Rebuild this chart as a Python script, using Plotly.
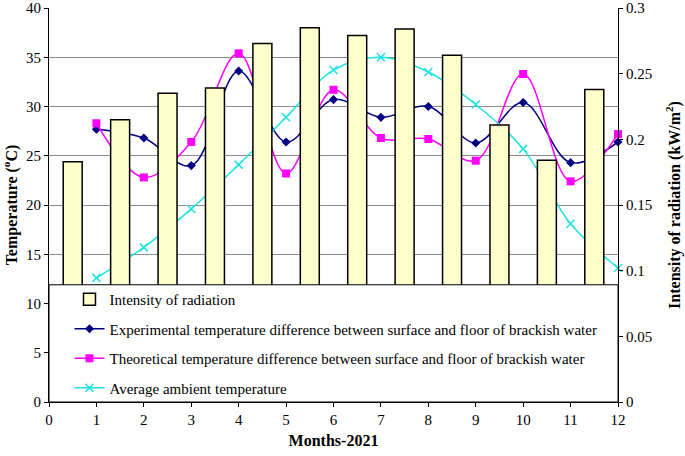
import plotly.graph_objects as go

months = list(range(1, 13))
radiation = [0.183, 0.215, 0.235, 0.239, 0.273, 0.285, 0.279, 0.284, 0.264, 0.211, 0.184, 0.238]
experimental = [27.7, 26.8, 24.0, 33.6, 26.4, 30.7, 28.9, 30.0, 26.3, 30.4, 24.3, 26.4]
theoretical = [28.3, 22.8, 26.4, 35.4, 23.2, 31.7, 26.8, 26.7, 24.5, 33.3, 22.4, 27.2]
ambient = [12.6, 15.7, 19.6, 24.1, 28.9, 33.7, 35.0, 33.5, 30.2, 25.7, 18.1, 13.6]

FONT = "Liberation Serif"
bar_x = [m - 0.5 for m in months]

fig = go.Figure()
fig.add_trace(go.Bar(
    x=bar_x, y=radiation, yaxis="y2", width=0.4,
    name="Intensity of radiation",
    marker=dict(color="#FFFFCC", line=dict(color="black", width=1.5)),
    legendgroup="a",
))
fig.add_trace(go.Scatter(
    x=months, y=experimental, mode="lines+markers", cliponaxis=False,
    name="Experimental temperature difference between surface and floor of brackish water",
    line=dict(color="#000080", width=1.5, shape="spline", smoothing=1),
    marker=dict(symbol="diamond", size=7, color="#000080"),
    legendgroup="b",
))
fig.add_trace(go.Scatter(
    x=months, y=theoretical, mode="lines+markers", cliponaxis=False,
    name="Theoretical temperature difference between surface and floor of brackish water",
    line=dict(color="#FF00FF", width=1.5, shape="spline", smoothing=1),
    marker=dict(symbol="square", size=8, color="#FF00FF"),
    legendgroup="c",
))
fig.add_trace(go.Scatter(
    x=months, y=ambient, mode="lines+markers", cliponaxis=False,
    name="Average ambient temperature",
    line=dict(color="#1EE3E3", width=1.5, shape="spline", smoothing=1),
    marker=dict(symbol="x-thin", size=8, color="#1EE3E3", line=dict(color="#1EE3E3", width=1.5)),
    legendgroup="d",
))

fig.add_shape(type="rect", xref="paper", yref="y", x0=0, x1=1, y0=0, y1=11.9,
              fillcolor="white", line=dict(color="black", width=1), layer="above")

fig.update_layout(
    width=685, height=456,
    margin=dict(l=49, r=67, t=8, b=54),
    paper_bgcolor="white", plot_bgcolor="white",
    font=dict(family=FONT, color="black", size=15),
    showlegend=True,
    barmode="overlay",
    legend=dict(x=0.036, y=0.302, xanchor="left", yanchor="top",
                bgcolor="rgba(0,0,0,0)", font=dict(family=FONT, size=15, color="black"),
                traceorder="grouped", tracegroupgap=7),
    xaxis=dict(range=[0, 12], dtick=1, tick0=0, showgrid=False, showline=True, automargin=False,
               linecolor="black", linewidth=1, ticks="outside", ticklen=4, tickcolor="black",
               tickfont=dict(family=FONT, size=15),
               title=dict(text="<b>Months-2021</b>", font=dict(family=FONT, size=16), standoff=7),
               zeroline=False),
    yaxis=dict(range=[0, 40], dtick=5, showgrid=True, gridcolor="#8c8c8c", gridwidth=1, automargin=False,
               showline=True, linecolor="black", linewidth=1, ticks="outside", ticklen=4,
               tickcolor="black", tickfont=dict(family=FONT, size=15),
               title=dict(text="<b>Temperature (<sup>o</sup>C)</b>", font=dict(family=FONT, size=16), standoff=4),
               zeroline=False),
    yaxis2=dict(range=[0, 0.3], dtick=0.05, overlaying="y", side="right", showgrid=False, automargin=False,
                showline=True, linecolor="black", linewidth=1, ticks="outside", ticklen=4,
                tickcolor="black", tickfont=dict(family=FONT, size=15),
                title=dict(text="<b>Intensity of radiation (kW/m<sup>2</sup>)</b>", font=dict(family=FONT, size=16), standoff=17),
                zeroline=False),
)

fig.write_html("out.html", config={"displayModeBar": False},
               post_script="document.body.style.margin='0';document.body.style.overflow='hidden';")
